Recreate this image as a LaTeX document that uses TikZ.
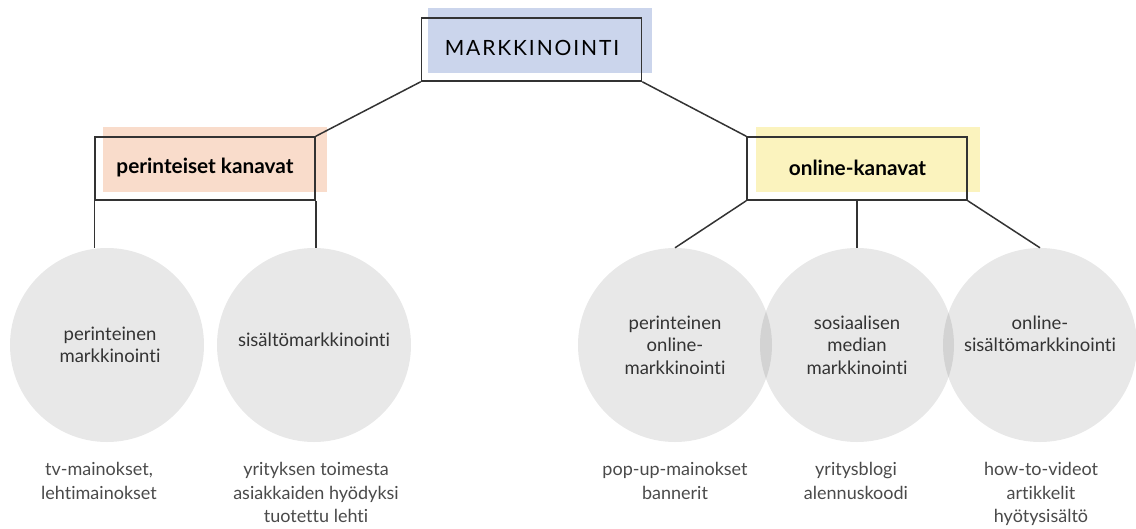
\documentclass[tikz,border=0pt]{standalone}
\usepackage{fontspec}
\setmainfont{Lato}[Ligatures=NoCommon]
\definecolor{linec}{HTML}{333333}
\definecolor{bluef}{HTML}{CBD5EC}
\definecolor{salmonf}{HTML}{F9DCCB}
\definecolor{yellowf}{HTML}{FBF3BE}
\definecolor{txtc}{HTML}{333333}
\definecolor{subc}{HTML}{4A4A4A}
\tikzset{
  conn/.style={draw=linec, line width=1.5pt},
  boxo/.style={draw=linec, line width=1.5pt, minimum width=220pt, minimum height=63pt, inner sep=0pt},
  bandfill/.style={inner sep=0pt, minimum width=224pt, minimum height=65pt},
  circ/.style={circle, fill=black, fill opacity=0.09, minimum size=194pt, inner sep=0pt},
  ctext/.style={text=txtc, font=\fontsize{18.5}{22.5}\selectfont, align=center},
  btext/.style={text=subc, font=\fontsize{18}{23.5}\selectfont, align=center, anchor=north},
  htext/.style={text=black, font=\fontsize{20.8}{24}\selectfont\bfseries},
}
\begin{document}
\begin{tikzpicture}[x=1pt,y=-1pt]
\useasboundingbox (0,0) rectangle (1136,528);
% coloured bands
\node[bandfill, fill=bluef] (topfill) at (540,40) {};
\node[bandfill, fill=salmonf] (pkfill) at (215,159.5) {};
\node[bandfill, fill=yellowf] (okfill) at (867.5,159.5) {};
% boxes
\node[boxo] (top) at (531.5,49.5) {};
\node[boxo] (pk) at (205,168.5) {};
\node[boxo] (ok) at (857,168.5) {};
\node[text=black, font=\fontsize{21}{24}\selectfont\addfontfeatures{LetterSpace=9}] (toplbl) at (532,48) {MARKKINOINTI};
\node[htext] (pklbl) at (205,168) {perinteiset kanavat};
\node[htext] (oklbl) at (857.5,168) {online-kanavat};
% circles
\node[circ] (c1) at (107,345) {};
\node[circ] (c2) at (314,345) {};
\node[circ] (c3) at (675,345) {};
\node[circ] (c4) at (857,345) {};
\node[circ] (c5) at (1040,345) {};
% connectors
\draw[conn] (top.south west) -- (pk.north east);
\draw[conn] (top.south east) -- (ok.north west);
\draw[conn] (pk.south west) -- (pk.south west |- c1.north);
\draw[conn] (pk.south east) -- (pk.south east |- c2.north);
\draw[conn] (ok.south west) -- (c3.north);
\draw[conn] (ok.south) -- (c4.north);
\draw[conn] (ok.south east) -- (c5.north);
% circle texts
\node[ctext] (t1) at (110,345) {perinteinen\\markkinointi};
\node[ctext] (t2) at (314,340) {sisältömarkkinointi};
\node[ctext] (t3) at (675,345) {perinteinen\\online-\\markkinointi};
\node[ctext] (t4) at (857,345) {sosiaalisen\\median\\markkinointi};
\node[ctext] (t5) at (1040,334) {online-\\sisältömarkkinointi};
% bottom texts
\node[btext] (b1) at (99,459) {tv-mainokset,\\lehtimainokset};
\node[btext] (b2) at (316,459) {yrityksen toimesta\\asiakkaiden hyödyksi\\tuotettu lehti};
\node[btext] (b3) at (675,459) {pop-up-mainokset\\bannerit};
\node[btext] (b4) at (856,459) {yritysblogi\\alennuskoodi};
\node[btext] (b5) at (1041,459) {how-to-videot\\artikkelit\\hyötysisältö};
\end{tikzpicture}
\end{document}
